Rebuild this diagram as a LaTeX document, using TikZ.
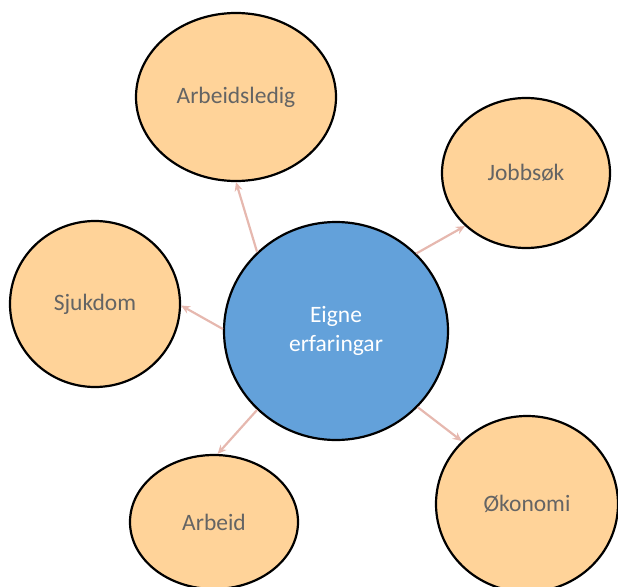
\documentclass[tikz,border=0pt]{standalone}
\usepackage{fontspec}
\setmainfont{Carlito}
\usetikzlibrary{shapes.geometric,arrows.meta}
\definecolor{peach}{RGB}{255,211,153}
\definecolor{core}{RGB}{99,161,218}
\definecolor{arrowpink}{RGB}{230,184,175}
\definecolor{txt}{RGB}{100,100,100}
\begin{document}
\begin{tikzpicture}[x=1pt, y=-1pt,
  bubble/.style={ellipse, draw=black, line width=2.2pt, fill=peach, text=txt,
    inner sep=0pt, font=\fontsize{23.5}{29}\selectfont},
  conn/.style={-{Stealth[length=9pt,width=8pt]}, draw=arrowpink, line width=2.2pt}]
  \useasboundingbox (0,0) rectangle (618,586);
  \clip (0,0) rectangle (618,586);
  \node[bubble, fill=core, text=white, align=center, minimum width=224pt, minimum height=218pt] (ctr) at (336,331) {Eigne\\erfaringar};
  \node[bubble, minimum width=200pt, minimum height=168pt] (ledig) at (236,97) {Arbeidsledig};
  \node[bubble, minimum width=168pt, minimum height=150pt] (jobb) at (526,173) {Jobbsøk};
  \node[bubble, minimum width=170pt, minimum height=166pt] (sjuk) at (95,304) {Sjukdom};
  \node[bubble, minimum width=168pt, minimum height=134pt] (arbeid) at (214,522) {Arbeid};
  \node[bubble, minimum width=182pt, minimum height=176pt] (okonomi) at (527,504) {Økonomi};
  \draw[conn] (ctr.135) -- (ledig.-90);
  \draw[conn] (ctr.44) -- (jobb.221);
  \draw[conn] (ctr.179) -- (sjuk.-1);
  \draw[conn] (ctr.225) -- (arbeid.87);
  \draw[conn] (ctr.-43) -- (okonomi.136);
\end{tikzpicture}
\end{document}
